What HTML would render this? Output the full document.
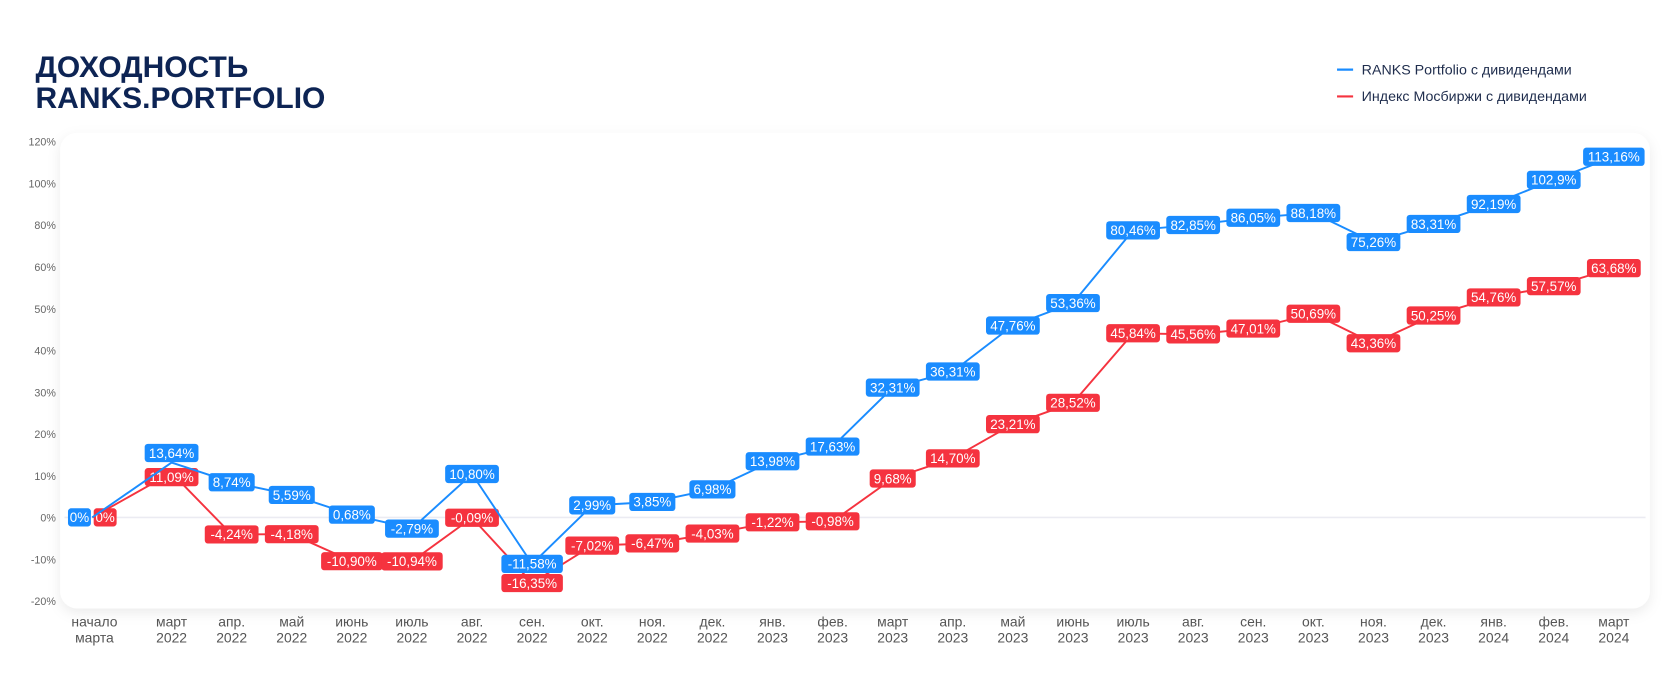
<!DOCTYPE html>
<html><head><meta charset="utf-8">
<style>
body{margin:0;background:#fff;width:1680px;height:692px;overflow:hidden;font-family:"Liberation Sans","DejaVu Sans",sans-serif;}
svg{position:absolute;left:0;top:0}
</style></head>
<body>
<svg id="chart" width="1680" height="692" viewBox="0 0 1568 646">
<defs>
<filter id="sh" x="-5%" y="-10%" width="110%" height="125%"><feDropShadow dx="0" dy="4" stdDeviation="6" flood-color="#000" flood-opacity="0.08"/></filter>
</defs>
<text x="33" y="72" font-size="28" font-weight="bold" fill="#0d2454">ДОХОДНОСТЬ</text>
<text x="33" y="101" font-size="28" font-weight="bold" fill="#0d2454">RANKS.PORTFOLIO</text>
<g>
<g><line x1="1248" y1="65" x2="1263" y2="65" stroke="#1a8cff" stroke-width="2"/><text x="1271" y="69.5" font-size="13.3" fill="#1f2d4d">RANKS Portfolio с дивидендами</text></g>
<g><line x1="1248" y1="90" x2="1263" y2="90" stroke="#f5333f" stroke-width="2"/><text x="1271" y="94.5" font-size="13.3" fill="#1f2d4d">Индекс Мосбиржи с дивидендами</text></g>
</g>
<rect x="56" y="124" width="1484" height="444" rx="16" fill="#fff" filter="url(#sh)"/>
<g id="yaxis"></g>
<g id="xaxis"></g>
<g id="series"></g>
</svg>
<script>
const categories = [["начало","марта"],["март","2022"],["апр.","2022"],["май","2022"],["июнь","2022"],["июль","2022"],["авг.","2022"],["сен.","2022"],["окт.","2022"],["ноя.","2022"],["дек.","2022"],["янв.","2023"],["фев.","2023"],["март","2023"],["апр.","2023"],["май","2023"],["июнь","2023"],["июль","2023"],["авг.","2023"],["сен.","2023"],["окт.","2023"],["ноя.","2023"],["дек.","2023"],["янв.","2024"],["фев.","2024"],["март","2024"]];
const ranksValues = [0,13.64,8.74,5.59,0.68,-2.79,10.80,-11.58,2.99,3.85,6.98,13.98,17.63,32.31,36.31,47.76,53.36,80.46,82.85,86.05,88.18,75.26,83.31,92.19,102.9,113.16];
const ranksLabels = ["0%","13,64%","8,74%","5,59%","0,68%","-2,79%","10,80%","-11,58%","2,99%","3,85%","6,98%","13,98%","17,63%","32,31%","36,31%","47,76%","53,36%","80,46%","82,85%","86,05%","88,18%","75,26%","83,31%","92,19%","102,9%","113,16%"];
const moexValues = [0,11.09,-4.24,-4.18,-10.90,-10.94,-0.09,-16.35,-7.02,-6.47,-4.03,-1.22,-0.98,9.68,14.70,23.21,28.52,45.84,45.56,47.01,50.69,43.36,50.25,54.76,57.57,63.68];
const moexLabels = ["0%","11,09%","-4,24%","-4,18%","-10,90%","-10,94%","-0,09%","-16,35%","-7,02%","-6,47%","-4,03%","-1,22%","-0,98%","9,68%","14,70%","23,21%","28,52%","45,84%","45,56%","47,01%","50,69%","43,36%","50,25%","54,76%","57,57%","63,68%"];
const tickLabels = ["120%","100%","80%","60%","50%","40%","30%","20%","10%","0%","-10%","-20%"];

const NS="http://www.w3.org/2000/svg";
function el(tag,attrs,parent){const e=document.createElementNS(NS,tag);for(const k in attrs)e.setAttribute(k,attrs[k]);parent.appendChild(e);return e;}
function xScale(i){return i===0?86:160+(i-1)*56.1;}
function yScale(v){return v<=60?483-v*3.75:258-(v-60)*2.1;}
function tickY(k){return 132+k*39;}

const yaxis=document.getElementById('yaxis');
tickLabels.forEach((t,k)=>{
  const tx=el('text',{x:52,y:tickY(k)+4,'font-size':10,fill:'#666','text-anchor':'end'},yaxis);
  tx.textContent=t;
  
  
});
const zl=el('line',{x1:60,x2:1536,y1:yScale(0),y2:yScale(0),stroke:'#ebebf2','stroke-width':1.5},yaxis);



const xaxis=document.getElementById('xaxis');
categories.forEach((c,i)=>{
  const cx=i===0?88:xScale(i);
  const t=el('text',{x:cx,y:585,'font-size':13,fill:'#555','text-anchor':'middle'},xaxis);
  
  
  const a=el('tspan',{x:cx,dy:0},t);a.textContent=c[0];
  const b=el('tspan',{x:cx,dy:15},t);b.textContent=c[1];
});

const series=document.getElementById('series');
function drawSeries(vals,labels,color,name,off0,dy1){
  const pts=vals.map((v,i)=>xScale(i)+','+yScale(v)).join(' ');
  const pl=el('polyline',{points:pts,fill:'none',stroke:color,'stroke-width':1.8,'stroke-linejoin':'round'},series);
  
  
  vals.forEach((v,i)=>{
    const cx=xScale(i)+(i===0?off0:0), cy=yScale(v)+(i===1?dy1:0);
    const g=el('g',{},series);
    
    
    const w=labels[i].length*7.2+7;
    el('rect',{x:cx-w/2,y:cy-8.5,width:w,height:17,rx:3,fill:color},g);
    const t=el('text',{x:cx,y:cy+4.5,'font-size':12.5,fill:'#fff','text-anchor':'middle'},g);
    t.textContent=labels[i];
  });
}
drawSeries(moexValues,moexLabels,'#f5333f','moex',12,4);
drawSeries(ranksValues,ranksLabels,'#1a8cff','ranks',-12,-9);
</script>
</body></html>
